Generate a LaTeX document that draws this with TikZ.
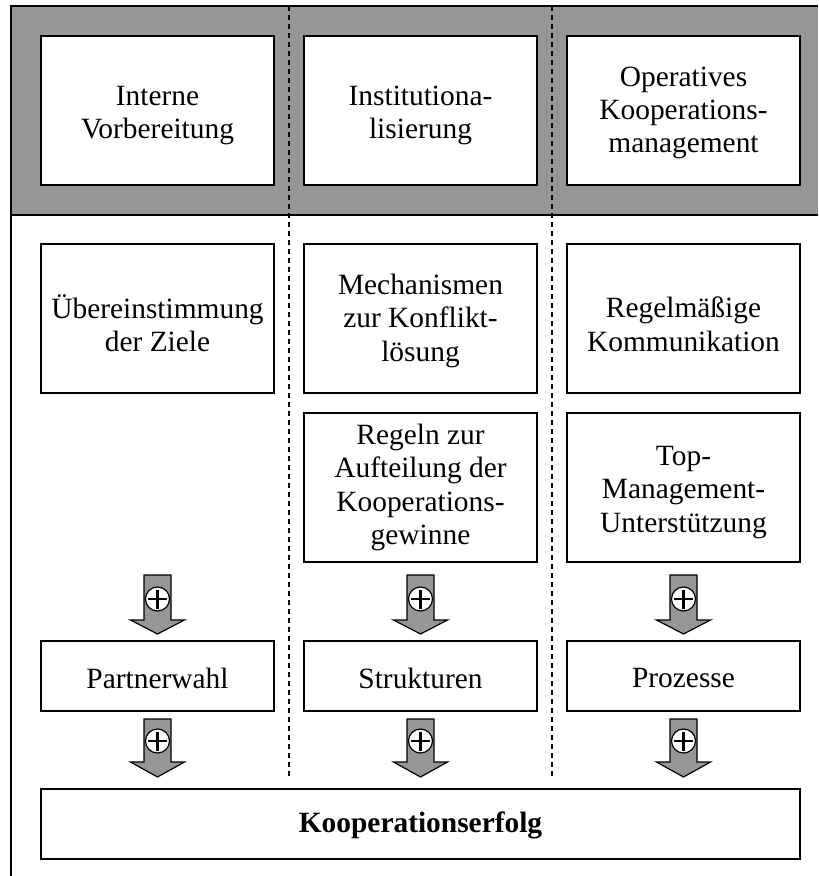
\documentclass[tikz,border=0pt]{standalone}
\usepackage{fontspec}
\setmainfont{Liberation Serif}
\definecolor{bandgray}{RGB}{150,150,150}
\newcommand\plusarrow[5]{% x, top, head start, tip, circle y
  \draw[arrowbody] ({#1-13.5},#2) -- ({#1+13.5},#2) -- ({#1+13.5},#3) -- ({#1+27},#3)
     -- (#1,#4) -- ({#1-27},#3) -- ({#1-13.5},#3) -- cycle;
  \draw[plusdisc] (#1,#5) circle[radius=6pt];
  \draw[plusbar] ({#1-9.5},#5) -- ({#1+9.5},#5) (#1,{#5-9.5}) -- (#1,{#5+9.5});
}
\begin{document}
\begin{tikzpicture}[x=0.5pt,y=-0.5pt,
  box/.style={draw, fill=white, line width=0.9pt,
    minimum width=116.5pt, minimum height=74.5pt, inner sep=0pt},
  lowbox/.style={box, minimum height=35pt},
  widebox/.style={box, minimum width=379.5pt, minimum height=35pt},
  boxtext/.style={align=center, inner sep=0pt, font=\fontsize{14.7}{16.7}\selectfont},
  frameline/.style={line width=0.9pt},
  divider/.style={dash pattern=on 2.5pt off 2pt, line width=0.8pt},
  arrowbody/.style={fill=bandgray, draw=black, line width=0.6pt},
  plusdisc/.style={draw=black, fill=white, line width=0.6pt},
  plusbar/.style={line width=1.3pt}]
\useasboundingbox (0,0) rectangle (818,876);
% background band and frame
\fill[bandgray] (11,6) rectangle (818,215);
\draw[frameline] (11,876) -- (11,6) -- (818,6);
\draw[frameline] (11,215) -- (818,215);
% dividers
\coordinate (d1t) at (289,6);
\coordinate (d1b) at (289,777);
\coordinate (d2t) at (552,6);
\coordinate (d2b) at (552,777);
\draw[divider] (d1t) -- (d1b);
\draw[divider] (d2t) -- (d2b);
% top row
\node[box] (intern) at (157.5,110.5) {};
\node[box] (instit) at (420.5,110.5) {};
\node[box] (operat) at (683.5,110.5) {};
\node[boxtext] (intern-t) at ([yshift=-2.5pt]intern.center) {Interne\\Vorbereitung};
\node[boxtext] (instit-t) at ([yshift=-2.5pt]instit.center) {Institutiona-\\lisierung};
\node[boxtext] (operat-t) at ([yshift=-1.2pt]operat.center) {Operatives\\Kooperations-\\management};
% second row
\node[box] (ziele) at (157.5,318.5) {};
\node[box] (konfl) at (420.5,318.5) {};
\node[box] (komm) at (683.5,318.5) {};
\node[boxtext] (ziele-t) at ([yshift=-2.5pt]ziele.center) {Übereinstimmung\\der Ziele};
\node[boxtext] (konfl-t) at ([yshift=-1.2pt]konfl.center) {Mechanismen\\zur Konflikt-\\lösung};
\node[boxtext] (komm-t) at ([yshift=-2.8pt]komm.center) {Regelmäßige\\Kommunikation};
% third row
\node[box] (regeln) at (420.5,487.5) {};
\node[box] (topm) at (683.5,487.5) {};
\node[boxtext] (regeln-t) at (regeln.center) {Regeln zur\\Aufteilung der\\Kooperations-\\gewinne};
\node[boxtext] (topm-t) at ([yshift=-2.5pt]topm.center) {Top-\\Management-\\Unterstützung};
% fourth row
\node[lowbox] (partner) at (157.5,676) {};
\node[lowbox] (struk) at (420.5,676) {};
\node[lowbox] (proz) at (683.5,676) {};
\node[boxtext] (partner-t) at ([yshift=-1pt]partner.center) {Partnerwahl};
\node[boxtext] (struk-t) at ([yshift=-1pt]struk.center) {Strukturen};
\node[boxtext] (proz-t) at ([yshift=-1pt]proz.center) {Prozesse};
% result
\node[widebox] (erfolg) at (420.5,824) {};
\node[boxtext] (erfolg-t) at ([yshift=-0.5pt]erfolg.center) {\textbf{Kooperationserfolg}};
% arrows
\plusarrow{157.5}{575}{620}{634}{599}
\plusarrow{420.5}{575}{620}{634}{599}
\plusarrow{683.5}{575}{620}{634}{599}
\plusarrow{157.5}{719}{762}{777}{741}
\plusarrow{420.5}{719}{762}{777}{741}
\plusarrow{683.5}{719}{762}{777}{741}
\end{tikzpicture}
\end{document}
